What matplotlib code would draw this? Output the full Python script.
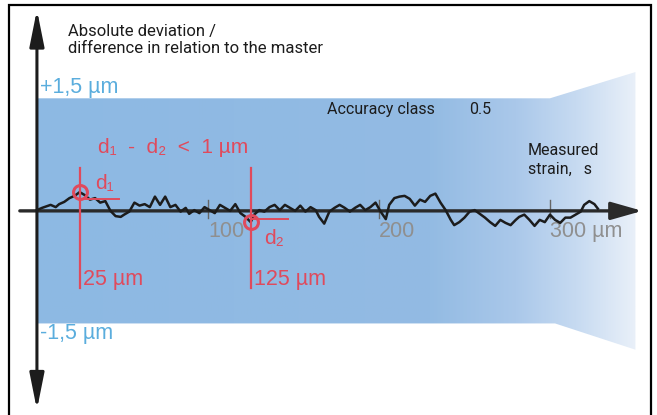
import numpy as np
import matplotlib.pyplot as plt
from matplotlib.patches import Polygon, Rectangle
from matplotlib.colors import to_rgb

# measured strain (um) and deviation from the master (um)
strain = [0, 3, 8, 11, 13, 16, 19, 22, 25, 28, 31, 34, 37, 40, 43, 46, 49, 51, 54, 57,
          60, 63, 66, 69, 72, 75, 78, 81, 84, 87, 89, 92, 95, 98, 101, 104, 107, 110, 113, 116,
          119, 122, 125, 127, 130, 133, 136, 139, 142, 145, 148, 151, 154, 157, 160, 163, 165, 168, 171, 174,
          177, 180, 183, 186, 189, 192, 195, 198, 201, 204, 206, 209, 212, 215, 218, 221, 224, 227, 230, 233,
          236, 239, 242, 244, 247, 250, 253, 256, 259, 262, 265, 268, 271, 274, 277, 280, 282, 285, 288, 291,
          294, 297, 300, 303, 306, 309, 312, 315, 318, 320, 323, 326, 328]
deviation = [0.01, 0.04, 0.08, 0.05, 0.09, 0.12, 0.17, 0.20, 0.25, 0.21, 0.15, 0.17, 0.11, 0.13, 0.00, -0.07, -0.08, -0.05, -0.01, 0.11,
             0.07, 0.09, 0.05, 0.19, 0.08, 0.19, 0.05, 0.08, -0.01, 0.04, -0.04, 0.01, -0.03, 0.05, 0.01, -0.03, 0.08, 0.04, 0.00, 0.09,
             -0.03, -0.08, -0.15, -0.05, 0.01, -0.01, 0.05, 0.08, 0.01, 0.08, 0.04, 0.00, 0.07, -0.01, 0.05, 0.01, -0.08, -0.17, -0.01, 0.04,
             0.08, 0.04, -0.01, 0.04, 0.08, 0.01, 0.05, 0.11, -0.01, -0.11, 0.08, 0.17, 0.19, 0.20, 0.16, 0.07, 0.15, 0.12, 0.20, 0.23,
             0.11, 0.01, -0.12, -0.19, -0.15, -0.09, -0.01, 0.01, -0.04, -0.09, -0.15, -0.20, -0.12, -0.16, -0.19, -0.12, -0.08, -0.05, -0.12, -0.20,
             -0.12, -0.15, -0.05, -0.12, -0.16, -0.09, -0.09, -0.05, -0.01, 0.08, 0.13, 0.09, 0.03]

tolerance = 1.5          # accuracy class band, +/- um
band_end = 350
flare_start = 300
flare_tol = 1.85
ticks = [100, 200, 300]
tick_labels = ['100', '200', '300 µm']
marks = [25, 125]        # d1 / d2 positions
mark_dev = [0.25, -0.15]
mark_labels = ['25 µm', '125 µm']

RED = '#e04a5c'
BLUE = '#5aaddd'
GRAY = '#8f8f8f'
INK = '#1c1c1c'

fig = plt.figure(figsize=(6.57, 4.15), dpi=100)
ax = fig.add_axes([0, 0, 1, 1])
ax.set_xlim(-21.6, 362.6)
ax.set_ylim(-2.72, 2.81)
ax.axis('off')

# outer frame
fig.patches.append(Rectangle((9 / 657, -0.02), 642 / 657, 1.008, transform=fig.transFigure,
                             fill=False, lw=1.6, ec='black'))

# tolerance band with fading right end
band = Polygon([(0, tolerance), (flare_start, tolerance), (band_end, flare_tol),
                (band_end, -flare_tol), (flare_start + 3, -tolerance), (0, -tolerance)],
               closed=True, fc='none', ec='none')
ax.add_patch(band)
stops = [0, 230, 280, 315, 350]
cols = np.array([to_rgb(c) for c in ['#8db9e3', '#93bbe3', '#aac8ea', '#c6daf1', '#e9f0f9']])
xs = np.linspace(0, band_end, 400)
grad = np.stack([np.interp(xs, stops, cols[:, i]) for i in range(3)], axis=-1)[None, :, :]
img = ax.imshow(grad, extent=[0, band_end, -flare_tol, flare_tol], aspect='auto', zorder=1)
img.set_clip_path(band)

# axes arrows
ax.annotate('', xy=(0, 2.68), xytext=(0, -2.65),
            arrowprops=dict(arrowstyle='<|-|>,head_length=1.1,head_width=0.22', lw=2.2,
                            color=INK, mutation_scale=20, shrinkA=0, shrinkB=0), zorder=5)
ax.annotate('', xy=(354, 0), xytext=(-10, 0),
            arrowprops=dict(arrowstyle='-|>,head_length=0.95,head_width=0.27', lw=2.4,
                            color='#2a2a2a', mutation_scale=20, shrinkA=0, shrinkB=0), zorder=3)

for t, lab in zip(ticks, tick_labels):
    ax.plot([t, t], [-0.09, 0.15], color='#666666', lw=1, zorder=2)
    ax.text(t, -0.28, lab, color=GRAY, fontsize=15.5, family='Liberation Sans',
            ha='left', va='center', zorder=2)

# measurement trace
ax.plot(strain, deviation, color=INK, lw=1.8, zorder=4)

# d1 / d2 marks
for x, lab in zip(marks, mark_labels):
    ax.plot([x, x], [0.57, -1.03], color=RED, lw=1.6, zorder=4)
    ax.text(x + 2.2, -0.92, lab, color=RED, fontsize=15.5, family='Liberation Sans',
            ha='left', va='center', zorder=4)
ax.plot(marks, mark_dev, 'o', ms=10, mfc='none', mec=RED, mew=2.2, zorder=6)
ax.plot([27, 48], [0.16, 0.16], color=RED, lw=1.4, zorder=6)
ax.plot([125, 147], [-0.11, -0.11], color=RED, lw=1.4, zorder=6)
ax.text(34, 0.36, 'd₁', color=RED, fontsize=15, family=['Liberation Sans', 'DejaVu Sans'],
        ha='left', va='center', zorder=6)
ax.text(133, -0.37, 'd₂', color=RED, fontsize=15, family=['Liberation Sans', 'DejaVu Sans'],
        ha='left', va='center', zorder=6)
ax.text(35.5, 0.85, 'd₁  -  d₂  <  1 µm', color=RED, fontsize=15,
        family=['Liberation Sans', 'DejaVu Sans'], ha='left', va='center', zorder=4)

# band limits
ax.text(1.5, 1.64, '+1,5 µm', color=BLUE, fontsize=15.5, family='Liberation Sans',
        ha='left', va='center', zorder=6)
ax.text(1.5, -1.64, '-1,5 µm', color=BLUE, fontsize=15.5, family='Liberation Sans',
        ha='left', va='center', zorder=6)

# black annotations
ax.text(18, 2.49, 'Absolute deviation /\ndifference in relation to the master', color=INK,
        fontsize=12, family='Roboto', ha='left', va='top', linespacing=1.2)
ax.text(169.5, 1.35, 'Accuracy class', color=INK, fontsize=11.5, family='Roboto',
        ha='left', va='center', zorder=4)
ax.text(252.5, 1.35, '0.5', color=INK, fontsize=11.5, family='Roboto',
        ha='left', va='center', zorder=4)
ax.text(287, 0.68, 'Measured\nstrain,   s', color=INK, fontsize=11.5, family='Roboto',
        ha='left', va='center', linespacing=1.25, zorder=4)

fig.savefig('out.png', dpi=100)
